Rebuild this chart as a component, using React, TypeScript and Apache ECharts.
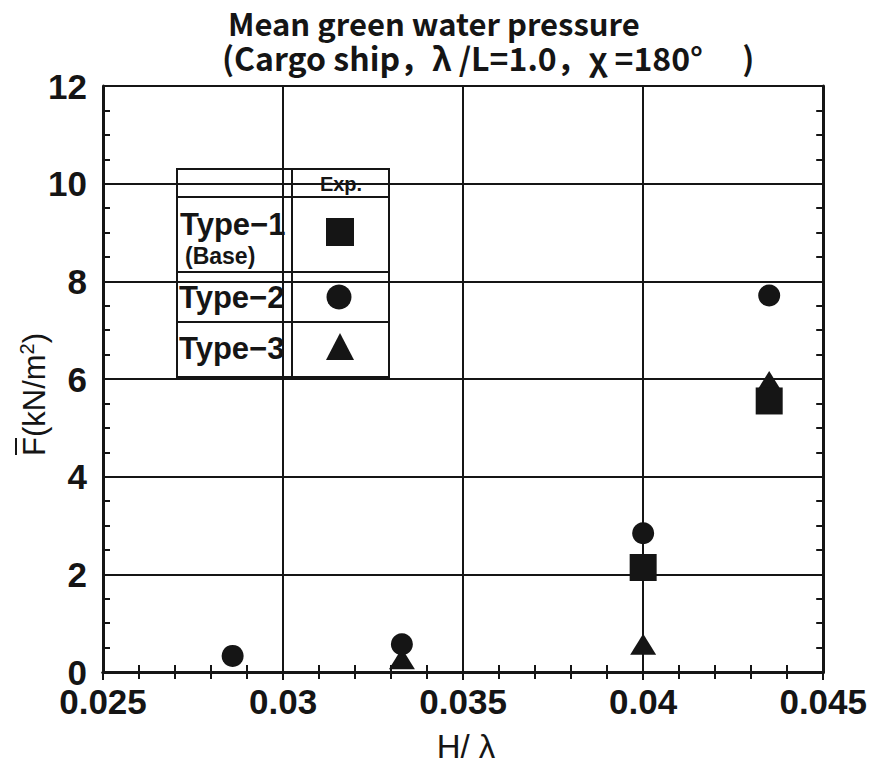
import React, { useEffect, useRef } from "react";
import * as echarts from "echarts";

// H/λ steps (1/35, 1/30, 1/25, 1/23) and mean pressure values (kN/m²)
const type1X = [0.04, 0.0435];
const type1Y = [2.14, 5.55];
const type2X = [0.0286, 0.0333, 0.04, 0.0435];
const type2Y = [0.33, 0.57, 2.84, 7.71];
const type3X = [0.0333, 0.04, 0.0435];
const type3Y = [0.27, 0.57, 5.95];

const xTicks = [0.025, 0.03, 0.035, 0.04, 0.045];
const yTicks = [0, 2, 4, 6, 8, 10, 12];

const titleMain = "Mean green water pressure";
const titleSub = "(Cargo ship，λ /L=1.0，χ =180°　 )";

const INK = "#151515";
const SANS = "'Liberation Sans', Arial, sans-serif";
const GOTHIC = "'Noto Sans CJK JP', 'Noto Sans', sans-serif";

const pairs = (xs: number[], ys: number[]) => xs.map((x, i) => [x, ys[i]]);

export default function App() {
  const ref = useRef<HTMLDivElement>(null);

  useEffect(() => {
    if (!ref.current) return;
    document.body.style.margin = "0";
    const chart = echarts.init(ref.current, null, { renderer: "svg" });

    const baseX = {
      type: "value" as const,
      min: xTicks[0],
      max: xTicks[xTicks.length - 1],
      interval: 0.005,
    };
    const baseY = {
      type: "value" as const,
      min: yTicks[0],
      max: yTicks[yTicks.length - 1],
      interval: 2,
    };
    const axisLine = { show: true, lineStyle: { color: INK, width: 3 } };
    const tick = { show: true, inside: true, length: 8, lineStyle: { color: INK, width: 2 } };
    const minorX = { show: true, splitNumber: 5, length: 7, lineStyle: { color: INK, width: 2 } };
    const minorY = { show: true, splitNumber: 4, length: 7, lineStyle: { color: INK, width: 2 } };
    const labelStyle = {
      color: INK,
      fontFamily: SANS,
      fontWeight: "bold" as const,
      fontSize: 35,
    };
    const mark = { color: INK, opacity: 1 };

    // legend table geometry
    const tL = 177, tR = 389, tT = 169, tB = 377, tC = 292;
    const rows = [197, 272, 322];

    chart.setOption({
      animation: false,
      grid: { left: 103, right: 44, top: 86, bottom: 97 },
      xAxis: [
        {
          ...baseX,
          position: "bottom",
          axisLine,
          axisTick: tick,
          minorTick: minorX,
          splitLine: { show: true, lineStyle: { color: INK, width: 2 } },
          axisLabel: {
            ...labelStyle,
            margin: 12,
            formatter: (v: number) => String(+v.toFixed(3)),
          },
        },
        {
          ...baseX,
          position: "top",
          axisLine,
          axisTick: tick,
          minorTick: minorX,
          splitLine: { show: false },
          axisLabel: { show: false },
        },
      ],
      yAxis: [
        {
          ...baseY,
          position: "left",
          axisLine,
          axisTick: tick,
          minorTick: minorY,
          splitLine: { show: true, lineStyle: { color: INK, width: 2 } },
          axisLabel: { ...labelStyle, margin: 16 },
        },
        {
          ...baseY,
          position: "right",
          axisLine,
          axisTick: tick,
          minorTick: minorY,
          splitLine: { show: false },
          axisLabel: { show: false },
        },
      ],
      series: [
        {
          name: "Type-3",
          type: "scatter",
          symbol: "triangle",
          symbolSize: [26, 21],
          itemStyle: mark,
          data: pairs(type3X, type3Y),
          z: 3,
        },
        {
          name: "Type-1",
          type: "scatter",
          symbol: "rect",
          symbolSize: 27,
          itemStyle: mark,
          data: pairs(type1X, type1Y),
          z: 4,
        },
        {
          name: "Type-2",
          type: "scatter",
          symbol: "circle",
          symbolSize: 22,
          itemStyle: mark,
          data: pairs(type2X, type2Y),
          z: 5,
        },
      ],
      graphic: [
        // title
        {
          type: "text",
          x: 228,
          y: 22,
          style: {
            text: titleMain,
            font: `bold 31px ${GOTHIC}`,
            lineHeight: 31,
            fill: INK,
            align: "left",
            verticalAlign: "middle",
          },
        },
        {
          type: "text",
          x: 222,
          y: 57,
          style: {
            text: titleSub,
            font: `bold 32px ${GOTHIC}`,
            lineHeight: 32,
            fill: INK,
            align: "left",
            verticalAlign: "middle",
          },
        },
        // x axis name
        {
          type: "text",
          x: 466,
          y: 746,
          style: {
            text: "H/ λ",
            font: `33px ${SANS}`,
            fill: INK,
            align: "center",
            verticalAlign: "middle",
          },
        },
        // y axis name, rotated, with overline on F
        {
          type: "group",
          x: 34,
          y: 382,
          rotation: Math.PI / 2,
          children: [
            {
              type: "text",
              x: -74,
              y: 0,
              style: {
                text: "F(kN/m{sup|2})",
                font: `31px ${SANS}`,
                fill: INK,
                align: "left",
                verticalAlign: "middle",
                rich: {
                  sup: { font: `20px ${SANS}`, fill: INK, verticalAlign: "top", padding: [0, 0, 14, 0] },
                },
              },
            },
            {
              type: "line",
              shape: { x1: -73, y1: -18, x2: -56, y2: -18 },
              style: { stroke: INK, lineWidth: 2 },
            },
          ],
        },
        // legend table
        {
          type: "group",
          z: 20,
          children: [
            {
              type: "rect",
              shape: { x: tL, y: tT, width: tR - tL, height: tB - tT },
              style: { fill: "#fff", stroke: INK, lineWidth: 2 },
            },
            {
              type: "line",
              shape: { x1: tC, y1: tT, x2: tC, y2: tB },
              style: { stroke: INK, lineWidth: 2 },
            },
            ...rows.map((y) => ({
              type: "line",
              shape: { x1: tL, y1: y, x2: tR, y2: y },
              style: { stroke: INK, lineWidth: 2 },
            })),
            {
              type: "text",
              x: 341,
              y: 184,
              style: { text: "Exp.", font: `bold 20px ${SANS}`, fill: INK, align: "center", verticalAlign: "middle" },
            },
            {
              type: "text",
              x: 180,
              y: 224,
              style: { text: "Type−1", font: `bold 31px ${SANS}`, fill: INK, align: "left", verticalAlign: "middle" },
            },
            {
              type: "text",
              x: 185,
              y: 256,
              style: { text: "(Base)", font: `bold 23px ${SANS}`, fill: INK, align: "left", verticalAlign: "middle" },
            },
            {
              type: "text",
              x: 179,
              y: 297,
              style: { text: "Type−2", font: `bold 31px ${SANS}`, fill: INK, align: "left", verticalAlign: "middle" },
            },
            {
              type: "text",
              x: 179,
              y: 348,
              style: { text: "Type−3", font: `bold 31px ${SANS}`, fill: INK, align: "left", verticalAlign: "middle" },
            },
            {
              type: "rect",
              shape: { x: 326, y: 218, width: 28, height: 28 },
              style: { fill: INK },
            },
            {
              type: "circle",
              shape: { cx: 339, cy: 297, r: 12.5 },
              style: { fill: INK },
            },
            {
              type: "polygon",
              shape: { points: [[340, 333], [354, 360], [326, 360]] },
              style: { fill: INK },
            },
          ],
        },
      ],
    });

    return () => chart.dispose();
  }, []);

  return <div ref={ref} style={{ width: 870, height: 769 }} />;
}
